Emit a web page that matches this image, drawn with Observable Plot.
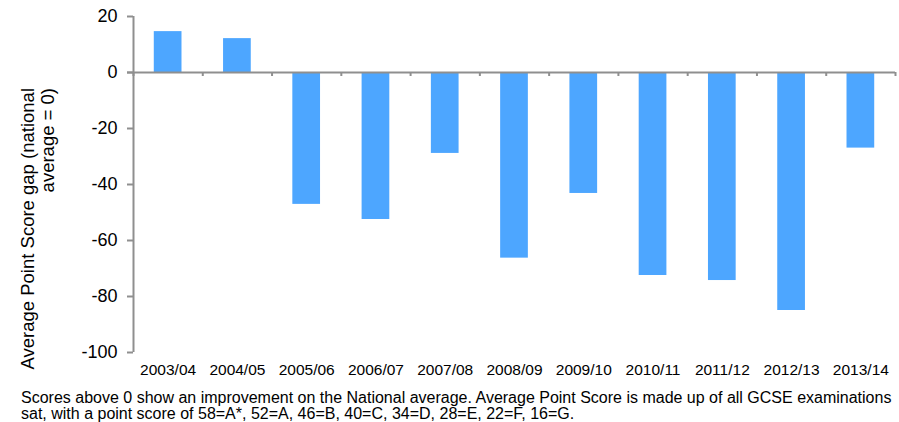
<!DOCTYPE html>
<html>
<head>
<meta charset="utf-8">
<script src="https://cdn.jsdelivr.net/npm/d3@7"></script>
<script src="https://cdn.jsdelivr.net/npm/@observablehq/plot@0.6"></script>
<style>
  body { margin: 0; background: #fff; font-family: "Liberation Sans", Arial, sans-serif; }
  #caption { font-size: 16px; line-height: 16px; color: #000; margin: 10px 0 0 21px; white-space: nowrap; }
</style>
</head>
<body>
<div id="chart"></div>
<div id="caption">Scores above 0 show an improvement on the National average. Average Point Score is made up of all GCSE examinations<br>sat, with a point score of 58=A*, 52=A, 46=B, 40=C, 34=D, 28=E, 22=F, 16=G.</div>
<script>
const years = ["2003/04","2004/05","2005/06","2006/07","2007/08","2008/09","2009/10","2010/11","2011/12","2012/13","2013/14"];
const gaps = [14.6, 12.1, -47.1, -52.5, -28.9, -66.3, -43.2, -72.5, -74.3, -85.0, -27.0];
const yTicks = [20, 0, -20, -40, -60, -80, -100];
const yLabelLines = ["Average Point Score gap (national", "average = 0)"];

const data = years.map((y, i) => ({i, year: y, gap: gaps[i]}));
const axisColor = "#8f8f8f";

const chart = Plot.plot({
  width: 899,
  height: 380,
  marginTop: 16,
  marginBottom: 28,
  marginLeft: 133,
  marginRight: 4,
  style: {fontFamily: "'Liberation Sans', Arial, sans-serif", color: "#000", background: "#fff"},
  x: {type: "linear", domain: [0, years.length]},
  y: {domain: [-100, 20]},
  marks: [
    Plot.rectY(data, {x1: d => d.i + 0.3, x2: d => d.i + 0.7, y1: 0, y2: "gap", fill: "#4da6ff"}),
    Plot.ruleX([0], {y1: -100, y2: 20, stroke: axisColor, strokeWidth: 2}),
    Plot.ruleY([0], {stroke: axisColor, strokeWidth: 2, insetLeft: -6}),
    Plot.ruleX(d3.range(years.length + 1), {x: d => d, y1: 0, y2: 0, insetBottom: -4, stroke: axisColor, strokeWidth: 2}),
    Plot.axisY({ticks: yTicks, tickFormat: d => String(d), tickSize: 6, tickPadding: 10, fontSize: 18, stroke: axisColor, strokeWidth: 2, label: null, color: "#000"}),
    Plot.axisX({ticks: years.map((_, i) => i + 0.5), tickFormat: v => years[Math.floor(v)], tickSize: 0, tickPadding: 11, fontSize: 15.5, label: null})
  ]
});

document.getElementById("chart").append(chart);

const svg = d3.select(chart);
const t = svg.append("text")
  .attr("transform", "translate(34,88) rotate(-90)")
  .attr("text-anchor", "end")
  .attr("font-size", 18.5)
  .attr("fill", "#000")
  .attr("font-family", "'Liberation Sans', Arial, sans-serif");
yLabelLines.forEach((line, k) => {
  t.append("tspan").attr("x", 0).attr("dy", k === 0 ? 0 : 20).text(line);
});
</script>
</body>
</html>
